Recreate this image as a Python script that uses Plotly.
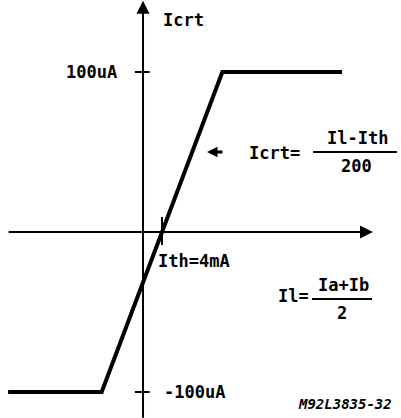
import plotly.graph_objects as go

W, H = 401, 418

# transfer characteristic: Il (mA) -> Icrt (uA)
il_ma = [-28.4, -8.7, 16.7, 41.9]
icrt_ua = [-100, -100, 100, 100]

ith_ma = 4
tick_ua = [100, -100]
tick_labels = ["100uA", "-100uA"]

FONT = "DejaVu Sans Mono"
INK = "black"


def px(x, y):
    """pixel position in the 401x418 page -> paper coords"""
    return x / W, 1 - y / H


fig = go.Figure()
fig.add_trace(
    go.Scatter(
        x=il_ma,
        y=icrt_ua,
        mode="lines",
        line=dict(color=INK, width=4),
        hoverinfo="skip",
    )
)

shapes = []
annotations = []

# axes with arrowheads (tips must stay inside the axis ranges or plotly hides them)
annotations.append(dict(x=0, y=144.5, ax=0, ay=-117, xref="x", yref="y", axref="x", ayref="y",
                        text="", showarrow=True, arrowhead=2, arrowsize=1.3, arrowwidth=2,
                        arrowcolor=INK, standoff=0))
annotations.append(dict(x=48.4, y=0, ax=-28.6, ay=0, xref="x", yref="y", axref="x", ayref="y",
                        text="", showarrow=True, arrowhead=2, arrowsize=1.3, arrowwidth=2,
                        arrowcolor=INK, standoff=0))

# y ticks
for v in tick_ua:
    shapes.append(dict(type="line", xref="x", yref="y", x0=-1.7, x1=1.4, y0=v, y1=v,
                       line=dict(color=INK, width=2)))
# Ith tick
shapes.append(dict(type="line", xref="x", yref="y", x0=ith_ma, x1=ith_ma, y0=9.4, y1=-8.1,
                   line=dict(color=INK, width=2)))


def label(text, x, y, size=17, anchor="center", italic=False):
    xp, yp = px(x, y)
    t = f"<b>{text}</b>"
    if italic:
        t = f"<i>{t}</i>"
    annotations.append(dict(x=xp, y=yp, xref="paper", yref="paper", text=t, showarrow=False,
                            xanchor=anchor, yanchor="middle",
                            font=dict(family=FONT, size=size, color=INK)))


def frac_bar(x0, x1, y):
    a = px(x0, y)
    b = px(x1, y)
    shapes.append(dict(type="line", xref="paper", yref="paper", x0=a[0], x1=b[0], y0=a[1], y1=b[1],
                       line=dict(color=INK, width=2)))


label("Icrt", 161, 20, anchor="left")
label(tick_labels[0], 119, 72, anchor="right")
label(tick_labels[1], 162, 392, anchor="left")
label(f"Ith={ith_ma}mA", 156, 261, anchor="left")

# Icrt = (Il - Ith) / 200  (small pointer arrow)
tip = px(207, 152)
annotations.append(dict(x=tip[0], y=tip[1], ax=17, ay=0, xref="paper", yref="paper",
                        axref="pixel", ayref="pixel", text="", showarrow=True, arrowhead=2,
                        arrowsize=0.7, arrowwidth=3, arrowcolor=INK, standoff=0))
label("Icrt=", 247, 153, anchor="left")
label("Il-Ith", 357, 138)
frac_bar(313, 397, 152)
label("200", 356, 166)

# Il = (Ia + Ib) / 2
label("Il=", 276, 296, anchor="left")
label("Ia+Ib", 343, 285)
frac_bar(312, 372, 299)
label("2", 342, 313)

label("M92L3835-32", 345, 404, size=14, italic=True)

fig.update_layout(
    width=W,
    height=H,
    margin=dict(l=0, r=0, t=0, b=0),
    paper_bgcolor="white",
    plot_bgcolor="white",
    showlegend=False,
    xaxis=dict(range=[-30.1, 54.3], visible=False, fixedrange=True),
    yaxis=dict(range=[-116.25, 145], visible=False, fixedrange=True),
    shapes=shapes,
    annotations=annotations,
)

# the page's default body margin would push the figure 8px off the window
fig.write_html(
    "out.html",
    config={"displayModeBar": False},
    post_script="document.body.style.margin = '0';",
)
